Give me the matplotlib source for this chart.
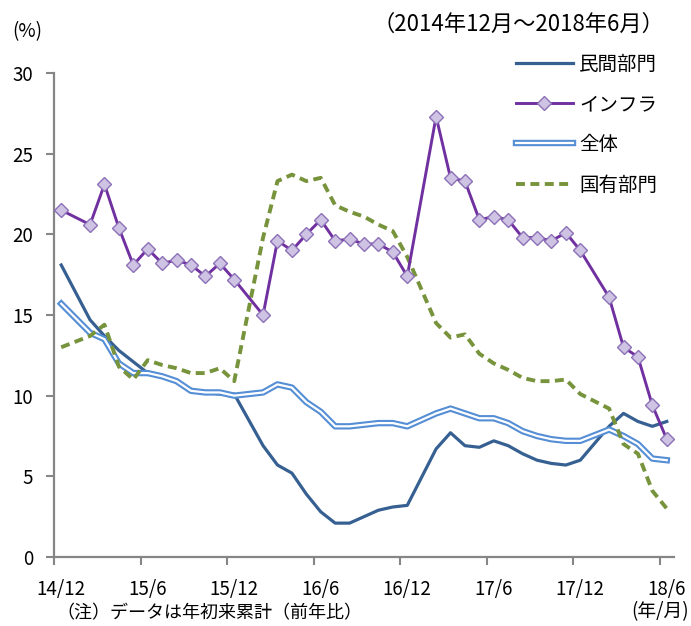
import matplotlib
matplotlib.use('Agg')
import matplotlib.pyplot as plt
import numpy as np
from matplotlib.legend_handler import HandlerTuple

plt.rcParams['font.family'] = ['Noto Sans CJK JP', 'DejaVu Sans']

# monthly, 2014/12 .. 2018/6 (January is not published -> None)
tick_labels = ['14/12', '15/6', '15/12', '16/6', '16/12', '17/6', '17/12', '18/6']

private = [18.1, None, 14.7, 13.7, 12.8, 12.1, 11.4, 11.2, 10.9, 10.4, 10.2, 10.1, 10.1,
           None, 6.9, 5.7, 5.2, 3.9, 2.8, 2.1, 2.1, 2.5, 2.9, 3.1, 3.2,
           None, 6.7, 7.7, 6.9, 6.8, 7.2, 6.9, 6.4, 6.0, 5.8, 5.7, 6.0,
           None, 8.1, 8.9, 8.4, 8.1, 8.4]

infra = [21.5, None, 20.6, 23.1, 20.4, 18.1, 19.1, 18.2, 18.4, 18.1, 17.4, 18.2, 17.2,
         None, 15.0, 19.6, 19.0, 20.0, 20.9, 19.6, 19.7, 19.4, 19.4, 18.9, 17.4,
         None, 27.3, 23.5, 23.3, 20.9, 21.1, 20.9, 19.8, 19.8, 19.6, 20.1, 19.0,
         None, 16.1, 13.0, 12.4, 9.4, 7.3]

total = [15.7, None, 13.9, 13.5, 12.0, 11.4, 11.4, 11.2, 10.9, 10.3, 10.2, 10.2, 10.0,
         None, 10.2, 10.7, 10.5, 9.6, 9.0, 8.1, 8.1, 8.2, 8.3, 8.3, 8.1,
         None, 8.9, 9.2, 8.9, 8.6, 8.6, 8.3, 7.8, 7.5, 7.3, 7.2, 7.2,
         None, 7.9, 7.5, 7.0, 6.1, 6.0]

state = [13.0, None, 13.7, 14.4, 11.8, 11.0, 12.2, 11.9, 11.7, 11.4, 11.4, 11.7, 10.9,
         None, 19.8, 23.3, 23.7, 23.3, 23.5, 21.8, 21.4, 21.1, 20.6, 20.2, 18.6,
         None, 14.5, 13.6, 13.8, 12.6, 12.0, 11.6, 11.1, 10.9, 10.9, 11.0, 10.1,
         None, 9.2, 7.0, 6.4, 4.1, 3.0]


def series(vals):
    y = np.array([np.nan if v is None else v for v in vals], dtype=float)
    x = np.arange(len(y))
    m = ~np.isnan(y)
    return x[m], y[m]


fig = plt.figure(figsize=(6.91, 6.26), dpi=100)
ax = fig.add_axes([54 / 691, 1 - 557 / 626, 620 / 691, 484 / 626])

x, y = series(private)
l_priv, = ax.plot(x, y, color='#366092', lw=2.3, solid_joinstyle='round', zorder=3)

x, y = series(infra)
l_infra, = ax.plot(x, y, color='#7030A0', lw=2.1, marker='D', markersize=7,
                   markerfacecolor='#CFC3E3', markeredgecolor='#8C70B8',
                   markeredgewidth=1.0, zorder=6)

x, y = series(total)
l_tot_o, = ax.plot(x, y, color='#558ED5', lw=4.6, solid_joinstyle='round', zorder=4)
l_tot_i, = ax.plot(x, y, color='white', lw=1.6, solid_joinstyle='round', zorder=4)

x, y = series(state)
l_state, = ax.plot(x, y, color='#77933C', lw=2.8, linestyle=(0, (2.3, 1.4)), zorder=5)

ax.set_xlim(-0.5, len(private) - 0.5)
ax.set_ylim(0, 30)
ax.set_yticks(range(0, 31, 5))
ax.set_xticks(np.arange(0, len(private), 6))
ax.set_xticklabels(tick_labels)
ax.set_xticks(np.arange(-0.5, len(private) - 1, 6), minor=True)

for s in ['top', 'right']:
    ax.spines[s].set_visible(False)
for s in ['left', 'bottom']:
    ax.spines[s].set_color('#868686')
    ax.spines[s].set_linewidth(1.6)

ax.tick_params(axis='y', direction='out', length=6, width=1.5, color='#868686',
               labelsize=13.5, pad=9)
ax.tick_params(axis='x', which='major', length=0, labelsize=13.5, pad=16)
ax.tick_params(axis='x', which='minor', direction='out', length=6, width=1.5,
               color='#868686')

leg = ax.legend([l_priv, l_infra, (l_tot_o, l_tot_i), l_state],
                ['民間部門', 'インフラ', '全体', '国有部門'],
                handler_map={tuple: HandlerTuple(ndivide=1)},
                loc='upper left', bbox_to_anchor=(506 / 691, 1 - 44 / 626),
                bbox_transform=fig.transFigure, frameon=False, borderpad=0,
                handlelength=2.95, handletextpad=0.3, labelspacing=0.99,
                fontsize=14, numpoints=1)

fig.text(12 / 691, 1 - 32 / 626, '(%)', fontsize=13.5, va='center', ha='left')
fig.text(664 / 691, 1 - 24 / 626, '（2014年12月～2018年6月）', fontsize=16,
         va='center', ha='right')
fig.text(56 / 691, 1 - 613 / 626, '（注）データは年初来累計（前年比）', fontsize=13,
         va='center', ha='left')
fig.text(689 / 691, 1 - 612 / 626, '(年/月)', fontsize=13.5, va='center', ha='right')

fig.savefig('out.png', dpi=100)
